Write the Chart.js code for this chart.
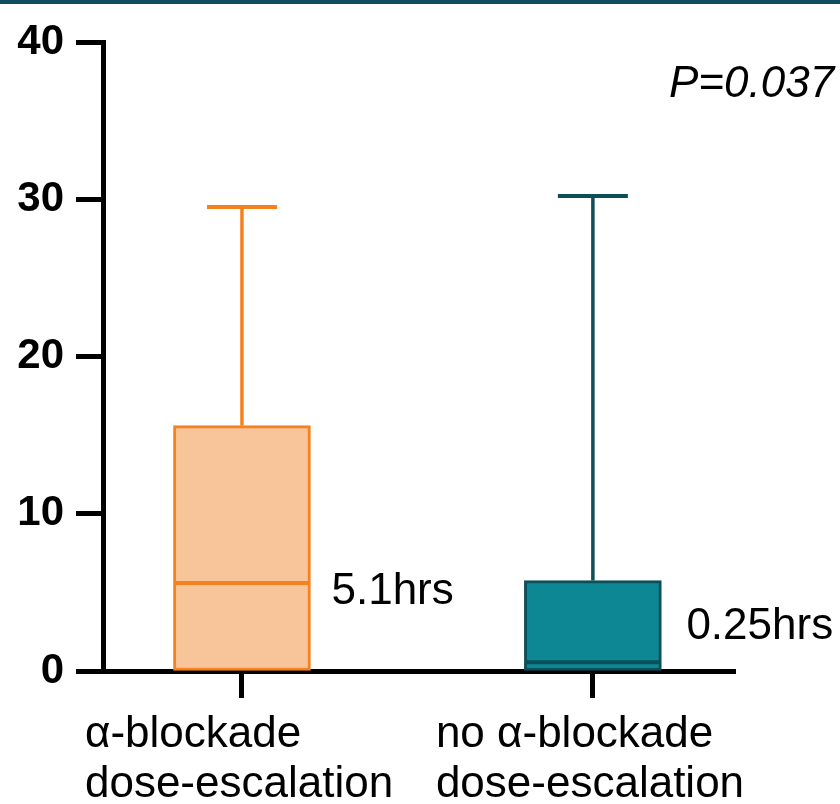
<!DOCTYPE html>
<html>
<head>
<meta charset="utf-8">
<script src="https://cdn.jsdelivr.net/npm/chart.js@4/dist/chart.umd.min.js"></script>
<style>
  html, body { margin: 0; padding: 0; background: #ffffff; }
  #wrap { position: relative; width: 840px; height: 804px; }
  #topbar { position: absolute; left: 0; top: 0; width: 840px; height: 4px; background: #0b4d5c; }
  canvas { display: block; }
</style>
</head>
<body>
<div id="wrap">
  <canvas id="c" width="840" height="804"></canvas>
  <div id="topbar"></div>
</div>
<script>
// ---- data ----
const categories = [["α-blockade", "dose-escalation"], ["no α-blockade", "dose-escalation"]];
const whiskerMin = [0, 0];
const q1 = [0, 0];
const median = [5.6, 0.55];
const q3 = [15.6, 5.75];
const whiskerMax = [29.5, 30.2];
const medianLabels = ["5.1hrs", "0.25hrs"];
const pValueText = "P=0.037";
const yTicks = [0, 10, 20, 30, 40];

// ---- styles ----
const fillColors = ["#f8c59b", "#0e8794"];
const strokeColors = ["#f5811f", "#0c4f59"];
const FONT = "'Liberation Sans', Arial, sans-serif";

const boxPlugin = {
  id: 'boxExtras',
  afterDatasetsDraw(chart) {
    const ctx = chart.ctx;
    const xs = chart.scales.x, ys = chart.scales.y;
    const meta = chart.getDatasetMeta(0);
    ctx.save();
    meta.data.forEach((bar, i) => {
      const cx = xs.getPixelForValue(i + 1);
      const half = bar.width / 2;
      ctx.strokeStyle = strokeColors[i];
      ctx.lineCap = 'butt';
      // upper whisker
      ctx.lineWidth = 3.5;
      ctx.beginPath();
      ctx.moveTo(cx, ys.getPixelForValue(q3[i]));
      ctx.lineTo(cx, ys.getPixelForValue(whiskerMax[i]));
      ctx.stroke();
      // lower whisker
      ctx.beginPath();
      ctx.moveTo(cx, ys.getPixelForValue(q1[i]));
      ctx.lineTo(cx, ys.getPixelForValue(whiskerMin[i]));
      ctx.stroke();
      // cap
      ctx.lineWidth = 4;
      ctx.beginPath();
      const yMax = ys.getPixelForValue(whiskerMax[i]);
      ctx.moveTo(cx - 35, yMax);
      ctx.lineTo(cx + 35, yMax);
      ctx.stroke();
      // median
      ctx.lineWidth = 4;
      const yMed = ys.getPixelForValue(median[i]);
      ctx.beginPath();
      ctx.moveTo(bar.x - half + 1, yMed);
      ctx.lineTo(bar.x + half - 1, yMed);
      ctx.stroke();
    });
    // text annotations
    ctx.fillStyle = '#000';
    ctx.textAlign = 'left';
    ctx.textBaseline = 'alphabetic';
    ctx.font = "44px " + FONT;
    const b0 = meta.data[0], b1 = meta.data[1];
    ctx.fillText(medianLabels[0], b0.x + b0.width / 2 + 21, 604);
    ctx.fillText(medianLabels[1], b1.x + b1.width / 2 + 25, 639);
    ctx.font = "italic 44px " + FONT;
    ctx.fillText(pValueText, 669, 97);
    ctx.restore();
  }
};

new Chart(document.getElementById('c'), {
  type: 'bar',
  data: {
    datasets: [{
      data: categories.map((c, i) => ({ x: i + 1, y: [q1[i], q3[i]] })),
      backgroundColor: fillColors,
      borderColor: strokeColors,
      borderWidth: 3,
      borderSkipped: false,
      barThickness: 137
    }]
  },
  options: {
    responsive: false,
    animation: false,
    layout: { padding: { top: 42, right: 105, left: 0, bottom: 0 } },
    plugins: { legend: { display: false }, tooltip: { enabled: false } },
    scales: {
      x: {
        type: 'linear',
        offset: false,
        min: 0.604,
        max: 2.405,
        afterBuildTicks: (axis) => { axis.ticks = [{ value: 1 }, { value: 2 }]; },
        afterFit: (axis) => { axis.height = 133; axis.paddingLeft = 0; axis.paddingRight = 0; },
        grid: { offset: false, drawOnChartArea: false, drawTicks: true, tickLength: 27, tickWidth: 5, tickColor: '#000' },
        border: { display: true, color: '#000', width: 5 },
        ticks: {
          callback: (v) => categories[v - 1] || '',
          color: '#000',
          font: { family: FONT, size: 44, lineHeight: 1.14 },
          align: 'start',
          labelOffset: -157,
          padding: 12,
          maxRotation: 0,
          autoSkip: false
        }
      },
      y: {
        min: 0,
        max: 40,
        afterBuildTicks: (axis) => { axis.ticks = yTicks.map(v => ({ value: v })); },
        afterFit: (axis) => { axis.width = 103; },
        grid: { drawOnChartArea: false, drawTicks: true, tickLength: 27, tickWidth: 5, tickColor: '#000' },
        border: { display: true, color: '#000', width: 5 },
        ticks: {
          color: '#000',
          font: { family: FONT, size: 42, weight: 'bold' },
          padding: 12
        }
      }
    }
  },
  plugins: [boxPlugin]
});
</script>
</body>
</html>
